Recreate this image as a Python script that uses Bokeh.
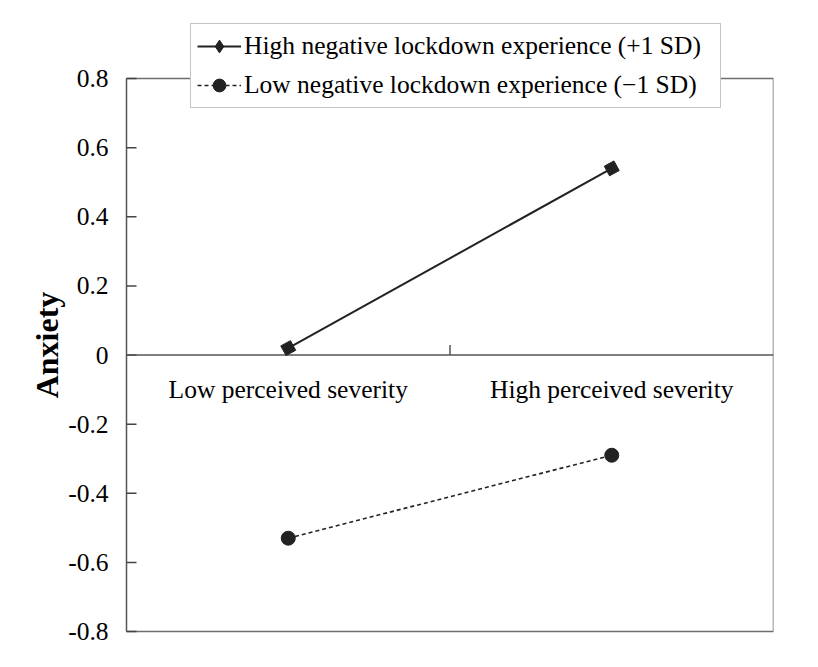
import math
from bokeh.plotting import figure
from bokeh.models import Range1d, Legend, LegendItem, ColumnDataSource
from bokeh.core.properties import value
from bokeh.embed import file_html
from bokeh.resources import INLINE

# ---- data ----
categories = ["Low perceived severity", "High perceived severity"]
cat_pos = [0.5, 1.5]
boundary_pos = [1.0]
high_vals = [0.02, 0.54]
low_vals = [-0.53, -0.29]
series_names = ["High negative lockdown experience (+1 SD)",
                "Low negative lockdown experience (\u22121 SD)"]
y_ticks = [-0.8, -0.6, -0.4, -0.2, 0.0, 0.2, 0.4, 0.6, 0.8]
y_tick_labels = ["-0.8", "-0.6", "-0.4", "-0.2", "0", "0.2", "0.4", "0.6", "0.8"]
y_title = "Anxiety"

FONT = "Liberation Serif"
FS = "25.5px"
INK = "#222222"
AXIS = "#555555"
FRAME = "#6e6e6e"
Y_MIN, Y_MAX = -0.8, 0.8
X_MIN, X_MAX = 0.0, 2.0
# ranges padded so that the axis texts and the legend lie inside the drawing area
X_LEFT = -0.3895
Y_TOP = 0.9852
Y_BOT = -0.8405

p = figure(width=802, height=651, output_backend="svg", toolbar_location=None,
           x_range=Range1d(X_LEFT, X_MAX), y_range=Range1d(Y_BOT, Y_TOP),
           x_axis_location=None, y_axis_location=None,
           min_border_left=0, min_border_right=29, min_border_top=14, min_border_bottom=6)
p.grid.visible = False
p.outline_line_color = None

# plot-area border (top, right, bottom)
p.segment(x0=[X_MIN, X_MAX, X_MIN], y0=[Y_MAX, Y_MAX, Y_MIN],
          x1=[X_MAX, X_MAX, X_MAX], y1=[Y_MAX, Y_MIN, Y_MIN],
          line_color=FRAME, line_width=1.5)

# vertical value axis
p.segment(x0=[X_MIN], y0=[Y_MIN], x1=[X_MIN], y1=[Y_MAX], line_color=AXIS, line_width=1.5)
p.ray(x=[X_MIN] * len(y_ticks), y=y_ticks, length=10, length_units="screen", angle=0,
      line_color="#444444", line_width=1.5)
p.text(x=[X_MIN] * len(y_ticks), y=y_ticks, text=y_tick_labels, text_font=value(FONT),
       text_font_size=FS, text_color="black", text_align="right", text_baseline="middle",
       x_offset=-18)
p.text(x=[X_MIN], y=[0.0], text=[y_title], text_font=value(FONT), text_font_style="bold",
       text_font_size="32px", text_color="black", text_align="center", text_baseline="middle",
       angle=math.pi / 2, x_offset=-80, y_offset=-10)

# horizontal category axis crossing at y = 0
p.segment(x0=[X_MIN], y0=[0.0], x1=[X_MAX], y1=[0.0], line_color=AXIS, line_width=1.5)
p.ray(x=boundary_pos, y=[0.0] * len(boundary_pos), length=10, length_units="screen",
      angle=math.pi / 2, line_color=AXIS, line_width=1.5)
p.text(x=cat_pos, y=[0.0] * len(cat_pos), text=categories, text_font=value(FONT),
       text_font_size=FS, text_color="black", text_align="center",
       text_baseline="middle", y_offset=34)

# series
src_h = ColumnDataSource(dict(x=cat_pos, y=high_vals))
src_l = ColumnDataSource(dict(x=cat_pos, y=low_vals))
lh = p.line("x", "y", source=src_h, line_color=INK, line_width=2)
sh = p.scatter("x", "y", source=src_h, marker="square", size=11, angle=0.5,
               fill_color=INK, line_color=INK)
ll = p.line("x", "y", source=src_l, line_color=INK, line_width=1.6, line_dash="4 3")
sl = p.scatter("x", "y", source=src_l, marker="circle", size=14,
               fill_color=INK, line_color=INK)

# legend glyph proxies (a single NaN point: nothing drawn in the plot)
nan = float("nan")
proxy = ColumnDataSource(dict(x=[nan], y=[nan]))
gh_line = p.line("x", "y", source=proxy, line_color=INK, line_width=2)
gh_mark = p.scatter("x", "y", source=proxy, marker="diamond", size=15, fill_color=INK, line_color=INK)
gl_line = p.line("x", "y", source=proxy, line_color=INK, line_width=1.6, line_dash="4 3")
gl_mark = p.scatter("x", "y", source=proxy, marker="circle", size=13, fill_color=INK, line_color=INK)

legend = Legend(items=[LegendItem(label=series_names[0], renderers=[gh_line, gh_mark]),
                       LegendItem(label=series_names[1], renderers=[gl_line, gl_mark])],
                location=(190, 537))
legend.label_text_font = FONT
legend.label_text_font_size = FS
legend.label_text_color = "black"
legend.label_height = 32
legend.label_width = 470
legend.glyph_height = 32
legend.glyph_width = 44
legend.label_standoff = 3
legend.spacing = 7
legend.padding = 6
legend.margin = 0
legend.border_line_color = "#8a8a8a"
legend.border_line_width = 1.5
legend.background_fill_color = "white"
legend.background_fill_alpha = 1.0
p.add_layout(legend, "center")

open("out.html", "w").write(file_html(p, INLINE))
